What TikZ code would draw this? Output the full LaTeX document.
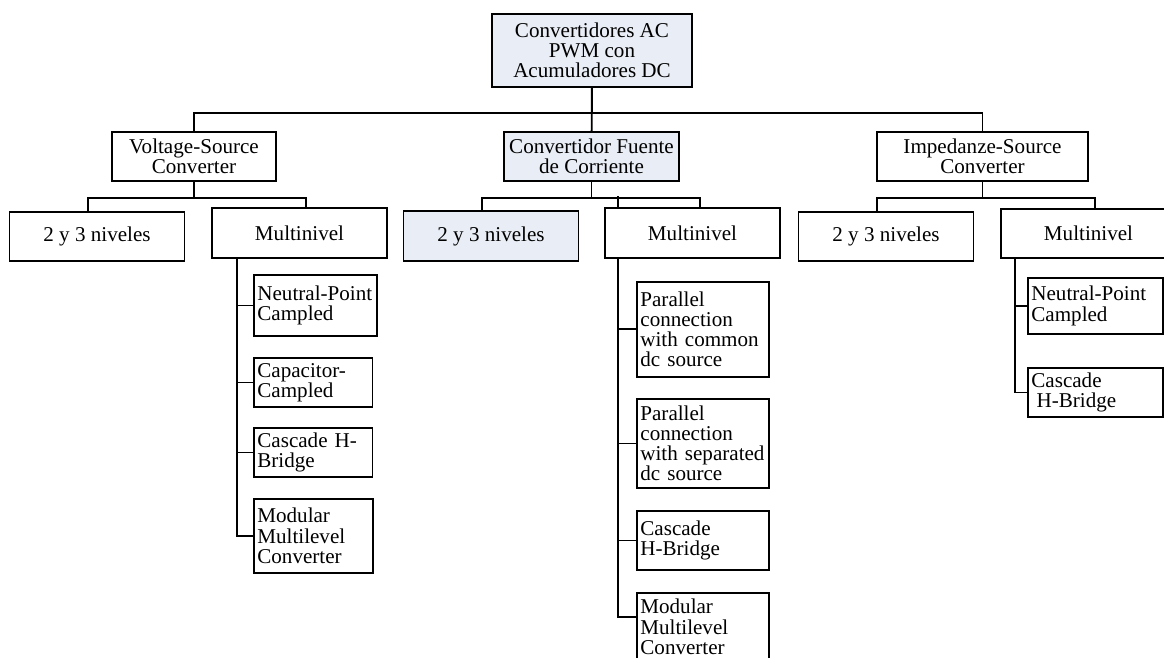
\documentclass[tikz,border=0pt]{standalone}
\usepackage{fontspec}
\setmainfont{Liberation Serif}
\usepackage{tikz}
\usetikzlibrary{positioning,calc}

\definecolor{boxfill}{HTML}{E9EDF5}

\begin{document}
\begin{tikzpicture}[
  x=0.02cm, y=-0.02cm,
  every node/.style={font=\fontsize{12}{11.5}\selectfont},
  box/.style={rectangle, draw, line width=1pt, inner sep=2pt},
  head/.style={box, fill=boxfill, align=center, minimum width=4cm, minimum height=1.46cm},
  family/.style={box, align=center, minimum height=0.98cm},
  kind/.style={box, align=center, minimum width=3.5cm, minimum height=0.99cm},
  leaf/.style={box, align=left, anchor=north west, text width=#1},
  link/.style={line width=1pt},
]
  \clip (0,0) rectangle (1164,657);

  % top
  \node[head] (root) at (592,50.5) {Convertidores AC\\PWM con\\Acumuladores DC};

  % families
  \node[family, minimum width=3.28cm] (vsc) at (194,156.5) {Voltage-Source\\Converter};
  \node[family, fill=boxfill, minimum width=3.5cm] (cfc) at (591.5,156.5) {Convertidor Fuente\\de Corriente};
  \node[family, minimum width=4.22cm] (isc) at (982.5,156.5) {Impedanze-Source\\Converter};

  % kinds
  \node[kind] (vtwo) at (97,236.5) {2 y 3 niveles};
  \node[kind] (vmul) at (299.5,233) {Multinivel};
  \node[kind, fill=boxfill] (ctwo) at (491,236) {2 y 3 niveles};
  \node[kind] (cmul) at (692.5,233) {Multinivel};
  \node[kind] (itwo) at (886,236.5) {2 y 3 niveles};
  \node[kind] (imul) at (1088.5,233.5) {Multinivel};

  % voltage-source leaves
  \node[leaf=66pt, minimum height=1.22cm] (vnp) at (253,274) {Neutral-Point\\Campled};
  \node[leaf=63.5pt, minimum height=0.98cm] (vcap) at (253,357) {Capacitor-\\Campled};
  \node[leaf=63.5pt, minimum height=0.98cm] (vchb) at (253,427) {Cascade H-\\Bridge};
  \node[leaf=64pt, minimum height=1.48cm] (vmmc) at (253,498) {Modular\\Multilevel\\Converter};

  % current-source leaves
  \node[leaf=71.4pt, minimum height=1.9cm] (cpc) at (636,281) {Parallel\\connection\\with common\\dc source};
  \node[leaf=71.4pt, minimum height=1.78cm] (cps) at (636,398) {Parallel\\connection\\with separated\\dc source};
  \node[leaf=71.4pt, minimum height=1.18cm] (cchb) at (636,510) {Cascade\\H-Bridge};
  \node[leaf=71.4pt, minimum height=1.36cm] (cmmc) at (636,592) {Modular\\Multilevel\\Converter};

  % impedance-source leaves
  \node[leaf=73pt, minimum height=1.12cm] (inp) at (1027,277) {Neutral-Point\\Campled};
  \node[leaf=73pt, minimum height=0.98cm] (ichb) at (1027,367) {Cascade\\\hspace{3pt}H-Bridge};

  % root to families
  \draw[link] (root) -- (cfc);
  \draw[link] (root.south) -- ++(0,25) -| (vsc.north);
  \draw[link] (root.south) -- ++(0,25) -| (isc.north);

  % families to kinds
  \draw[link] (vsc.south) -- ++(0,16) -| ($(vtwo.north)+(-9,0)$);
  \draw[link] (vsc.south) -- ++(0,16) -| ($(vmul.north)+(6.5,0)$);
  \draw[link] (cfc.south) -- ++(0,16) -| ($(ctwo.north)+(-9,0)$);
  \draw[link] (cfc.south) -- ++(0,16) -| ($(cmul.north)+(7.5,0)$);
  \draw[link] ($(cmul.north west)+(14,0)$) -- ++(0,-11);
  \draw[link] (isc.south) -- ++(0,16) -| ($(itwo.north)+(-9,0)$);
  \draw[link] (isc.south) -- ++(0,16) -| ($(imul.north)+(6.5,0)$);

  % trunks
  \foreach \leafname in {vnp,vcap,vchb,vmmc}
    \draw[link] ($(vmul.south west)+(26,0)$) |- (\leafname.west);
  \foreach \leafname in {cpc,cps,cchb}
    \draw[link] ($(cmul.south west)+(14,0)$) |- (\leafname.west);
  \draw[link] ($(cmul.south west)+(14,0)$) |- ($(cmmc.north west)+(0,25)$);
  \foreach \leafname in {inp,ichb}
    \draw[link] ($(imul.south west)+(15,0)$) |- (\leafname.west);
\end{tikzpicture}
\end{document}
